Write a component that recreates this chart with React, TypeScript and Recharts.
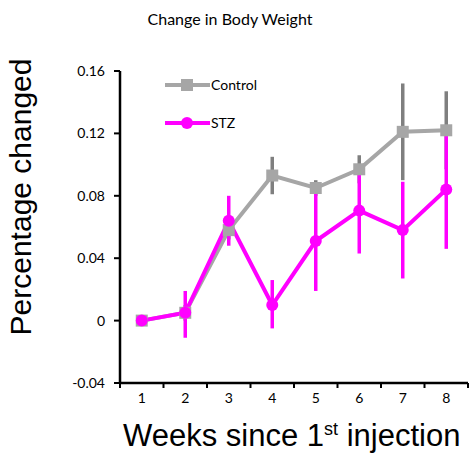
import React from 'react'
import { ErrorBar, Line, LineChart, XAxis, YAxis } from 'recharts'

const weeks = [1, 2, 3, 4, 5, 6, 7, 8]
const controlMean = [0, 0.005, 0.058, 0.093, 0.085, 0.097, 0.121, 0.122]
const controlLow = [0, 0, 0.052, 0.081, 0.08, 0.088, 0.09, 0.097]
const controlHigh = [0, 0.01, 0.064, 0.105, 0.09, 0.106, 0.152, 0.147]
const stzMean = [0, 0.005, 0.064, 0.01, 0.051, 0.0705, 0.058, 0.084]
const stzLow = [0, -0.011, 0.048, -0.005, 0.019, 0.043, 0.027, 0.046]
const stzHigh = [0, 0.019, 0.08, 0.026, 0.083, 0.098, 0.089, 0.12]
const yTicks = [-0.04, 0, 0.04, 0.08, 0.12, 0.16]

const data = weeks.map((week, i) => ({
  week,
  control: controlMean[i],
  controlErr: [controlMean[i] - controlLow[i], controlHigh[i] - controlMean[i]],
  stz: stzMean[i],
  stzErr: [stzMean[i] - stzLow[i], stzHigh[i] - stzMean[i]],
}))

// tick marks sit between weeks, labels in the middle of each week
const edgeTicks = [...weeks.map((w) => w - 0.5), weeks[weeks.length - 1] + 0.5]

const W = 474
const H = 456
const Y_AXIS_W = 50
const MARGIN = { top: 71, right: 6, bottom: 43, left: 70 }
const PLOT_W = W - MARGIN.left - Y_AXIS_W - MARGIN.right
const HALF_BAND = PLOT_W / weeks.length / 2

const GRAY = '#a6a6a6'
const DARK_GRAY = '#7f7f7f'
const MAGENTA = '#ff00ff'
const TICK_FONT = 'Lato, "Open Sans", sans-serif'
const LABEL_FONT = '"Liberation Sans", Arial, sans-serif'

const WeekTick = ({ x, y, index }) => {
  if (index >= weeks.length) return null
  return (
    <text x={x + HALF_BAND} y={y} dy={11} textAnchor="middle" fontSize={14} fontFamily={TICK_FONT} fill="#000">
      {weeks[index]}
    </text>
  )
}

const Square = ({ cx, cy, index }) => (
  <rect key={`sq-${index}`} x={cx - 6} y={cy - 6} width={12} height={12} fill={GRAY} />
)

export default function App() {
  return (
    <div style={{ position: 'absolute', left: 0, top: 0, width: W, height: H, background: '#fff' }}>
      <LineChart width={W} height={H} data={data} margin={MARGIN}>
        <XAxis
          dataKey="week"
          type="number"
          domain={[edgeTicks[0], edgeTicks[edgeTicks.length - 1]]}
          ticks={edgeTicks}
          interval={0}
          height={30}
          axisLine={{ stroke: '#000', strokeWidth: 2.5 }}
          tickLine={{ stroke: '#000', strokeWidth: 2 }}
          tickSize={5}
          tickMargin={4}
          tick={<WeekTick />}
        />
        <YAxis
          type="number"
          domain={[-0.04, 0.16]}
          ticks={yTicks}
          interval={0}
          width={Y_AXIS_W}
          axisLine={{ stroke: '#000', strokeWidth: 2.5 }}
          tickLine={{ stroke: '#000', strokeWidth: 2 }}
          tickSize={6}
          tickMargin={9}
          tickFormatter={(v) => (v === 0 ? '0' : v.toFixed(2))}
          tick={{ fontSize: 14, fontFamily: TICK_FONT, fill: '#000' }}
        />
        <Line
          dataKey="control"
          name="Control"
          stroke={GRAY}
          strokeWidth={4}
          dot={<Square />}
          activeDot={false}
          isAnimationActive={false}
        >
          <ErrorBar dataKey="controlErr" direction="y" width={0} stroke={DARK_GRAY} strokeWidth={3.5} isAnimationActive={false} />
        </Line>
        <Line
          dataKey="stz"
          name="STZ"
          stroke={MAGENTA}
          strokeWidth={4}
          dot={{ r: 6, fill: MAGENTA, stroke: MAGENTA, strokeWidth: 0 }}
          activeDot={false}
          isAnimationActive={false}
        >
          <ErrorBar dataKey="stzErr" direction="y" width={0} stroke={MAGENTA} strokeWidth={3.5} isAnimationActive={false} />
        </Line>
      </LineChart>
      <svg width={W} height={H} style={{ position: 'absolute', left: 0, top: 0, pointerEvents: 'none' }}>
        <text x={230} y={25} textAnchor="middle" fontSize={16} fontFamily={TICK_FONT} fill="#000">
          Change in Body Weight
        </text>
        <g>
          <line x1={165} y1={85} x2={210} y2={85} stroke={GRAY} strokeWidth={4} />
          <rect x={181} y={79} width={12} height={12} fill={GRAY} />
          <text x={211} y={90} fontSize={14} fontFamily={TICK_FONT} fill="#000">Control</text>
          <line x1={165} y1={123} x2={210} y2={123} stroke={MAGENTA} strokeWidth={4} />
          <circle cx={187} cy={123} r={6} fill={MAGENTA} />
          <text x={211} y={128} fontSize={14} fontFamily={TICK_FONT} fill="#000">STZ</text>
        </g>
        <text
          transform="translate(31, 197) rotate(-90)"
          textAnchor="middle"
          fontSize={30}
          fontFamily={LABEL_FONT}
          fill="#000"
        >
          Percentage changed
        </text>
        <text x={123} y={446} fontSize={31} fontFamily={LABEL_FONT} fill="#000">
          Weeks since 1
          <tspan fontSize={18} dy={-11}>st</tspan>
          <tspan dy={11}> injection</tspan>
        </text>
      </svg>
    </div>
  )
}
